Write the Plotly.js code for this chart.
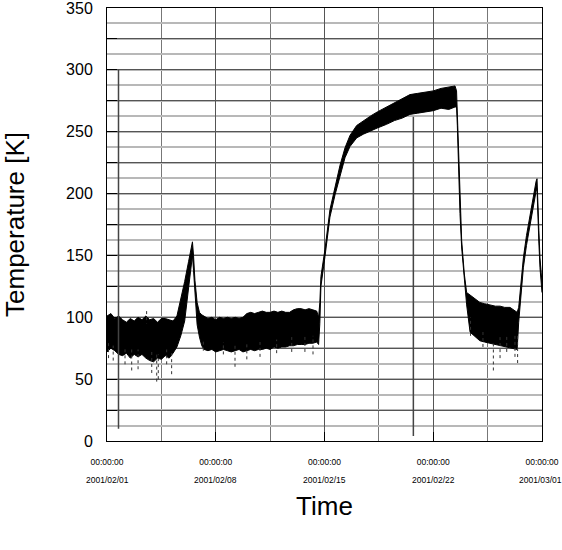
<!DOCTYPE html>
<html>
<head>
<meta charset="utf-8">
<script src="https://cdn.plot.ly/plotly-3.0.1.min.js"></script>
<style>
  html, body { margin: 0; padding: 0; background: white; }
  #chart { width: 562px; height: 550px; }
</style>
</head>
<body>
<div id="chart"></div>
<script>
// days after 2001/02/01 00:00:00, with the upper and lower edge of the noisy temperature band [K]
var bandDays = [
  0, 0.25, 0.5, 0.75, 1.0, 1.25, 1.5, 1.75, 2.0, 2.25, 2.5, 2.75, 3.0, 3.25, 3.5, 3.75, 4.0, 4.25,
  4.5, 4.75, 5.0, 5.25, 5.4, 5.5, 5.57, 5.66, 5.8, 5.95, 6.1,
  6.25, 6.5, 6.75, 7.0, 7.25, 7.5, 7.75, 8.0, 8.25, 8.5, 8.75, 9.0, 9.25, 9.5, 9.75, 10.0,
  10.25, 10.5, 10.75, 11.0, 11.25, 11.5, 11.75, 12.0, 12.25, 12.5, 12.75, 13.0, 13.25, 13.5,
  13.62, 13.7, 13.77, 14.03, 14.35, 14.68, 15.0, 15.32, 15.64, 16.07, 16.5, 17.0, 17.4, 18.0,
  18.5, 19.0, 19.5, 20.0, 20.5, 21.0, 21.5, 22.0, 22.4,
  22.5, 22.55, 22.62, 22.72, 22.83, 23.0, 23.15, 23.37, 23.7, 24.0, 24.3, 24.65, 25.0, 25.3,
  25.6, 25.94, 26.2, 26.4,
  26.5, 26.65, 26.8, 27.0, 27.23, 27.45, 27.62, 27.68, 27.8, 27.87, 28.0
];
var bandHi = [
  101, 103, 99, 101, 98, 96, 99, 97, 100, 98, 101, 98, 99, 96, 99, 99, 98, 97,
  101, 114, 129, 145, 154, 161, 150, 130, 112, 104, 102,
  101, 99, 100, 98, 100, 99, 100, 99, 100, 99, 100, 103, 104, 103, 104, 105,
  104, 104, 105, 104, 105, 104, 104, 106, 107, 107, 106, 107, 106, 105,
  100, 112, 133, 155, 187, 206, 223, 237, 247, 255, 259, 263, 266, 270,
  273, 276, 280, 281, 282, 283, 285, 286, 287,
  283, 265, 228, 190, 162, 135, 120, 118, 115, 112, 111, 110, 109, 109,
  108, 108, 106, 104,
  108, 128, 148, 166, 184, 198, 210, 212, 170, 148, 128
];
var bandLo = [
  72, 75, 73, 70, 69, 71, 67, 70, 68, 70, 67, 65, 64, 67, 66, 69, 67, 71,
  76, 85, 97, 122, 138, 150, 138, 117, 94, 84, 77,
  74, 73, 74, 72, 73, 74, 73, 72, 73, 74, 72, 73, 74, 73, 74, 74,
  75, 74, 76, 75, 76, 76, 77, 77, 78, 78, 78, 79, 79, 80,
  78, 95, 125, 149, 181, 199, 215, 229, 238, 245, 248, 251, 253, 256,
  259, 261, 264, 265, 266, 267, 269, 268, 270,
  270, 255, 222, 184, 156, 128, 110, 88, 84, 81, 80, 79, 78, 77,
  76, 75, 74, 74,
  96, 120, 140, 158, 176, 190, 202, 204, 160, 140, 120
];

// single readings far outside the band (dotted streaks)
var dipDays = [0.1, 0.4, 1.16, 1.59, 2.0, 2.55, 2.88, 3.2, 3.3, 3.84, 4.16, 6.2, 7.49, 8.24, 9.0, 9.85, 10.92, 11.89,
               12.74, 13.26, 23.4, 24.2, 24.87, 25.3, 25.73, 26.26, 26.43];
var dipLow  = [67, 65, 62, 57, 58, 105, 55, 48, 50, 62, 54, 73, 70, 60, 66, 68, 71, 72,
               72, 70, 85, 76, 57, 67, 72, 68, 63];
var dipHigh = [80, 78, 76, 75, 74, 95, 72, 70, 70, 74, 72, 82, 80, 78, 80, 80, 82, 84,
               85, 85, 100, 90, 80, 85, 85, 85, 85];

// two glitches that cross most of the range
var glitchDays = [0.74, 19.72];
var glitchLow  = [10, 4];
var glitchHigh = [300, 262];

var tickDays = [0, 7, 14, 21, 28];
var tickDates = ['2001/02/01', '2001/02/08', '2001/02/15', '2001/02/22', '2001/03/01'];

var t0 = Date.UTC(2001, 1, 1);
function toDate(d) {
  return new Date(t0 + d * 86400000).toISOString().slice(0, 23).replace('T', ' ');
}

var bandX = bandDays.map(toDate);

function segments(days, lo, hi) {
  var x = [], y = [];
  for (var i = 0; i < days.length; i++) {
    x.push(toDate(days[i]), toDate(days[i]), null);
    y.push(lo[i], hi[i], null);
  }
  return {x: x, y: y};
}
var dips = segments(dipDays, dipLow, dipHigh);
var glitches = segments(glitchDays, glitchLow, glitchHigh);

var traceLo = {
  x: bandX, y: bandLo, mode: 'lines',
  line: {color: 'black', width: 1},
  hoverinfo: 'skip'
};
var traceHi = {
  x: bandX, y: bandHi, mode: 'lines',
  fill: 'tonexty', fillcolor: 'black',
  line: {color: 'black', width: 1},
  hoverinfo: 'skip'
};
var traceDips = {
  x: dips.x, y: dips.y, mode: 'lines',
  line: {color: '#333', width: 1, dash: 'dot'},
  hoverinfo: 'skip'
};
var traceGlitch = {
  x: glitches.x, y: glitches.y, mode: 'lines',
  line: {color: '#444', width: 1.5},
  hoverinfo: 'skip'
};

var yVals = [], yText = [];
for (var v = 0; v <= 350; v += 25) {
  yVals.push(v);
  yText.push(v % 50 === 0 ? String(v) : '');
}

var annotations = tickDays.map(function(d, i) {
  return {
    x: toDate(d), y: -0.09, xref: 'x', yref: 'paper',
    text: tickDates[i], showarrow: false,
    xanchor: 'center', yanchor: 'middle',
    xshift: i === tickDays.length - 1 ? -2 : 0,
    font: {family: 'Liberation Sans, Arial, sans-serif', size: 8.5, color: 'black'}
  };
});

var layout = {
  width: 562, height: 550,
  margin: {l: 107, r: 20, t: 8, b: 109},
  paper_bgcolor: 'white', plot_bgcolor: 'white',
  showlegend: false,
  font: {family: 'Liberation Sans, Arial, sans-serif', color: 'black'},
  xaxis: {
    type: 'date',
    range: [toDate(0), toDate(28)],
    tickvals: tickDays.map(toDate),
    ticktext: tickDays.map(function() { return '00:00:00'; }),
    tickfont: {size: 8.5},
    ticks: 'inside', ticklen: 9, tickcolor: 'black',
    ticklabelstandoff: 13,
    ticklabeloverflow: 'allow',
    showgrid: true, gridcolor: '#555', gridwidth: 1,
    minor: {dtick: 3.5 * 86400000, tick0: toDate(0), showgrid: true, gridcolor: '#777', gridwidth: 1},
    showline: true, linecolor: 'black', linewidth: 1, mirror: true,
    zeroline: false,
    title: {text: 'Time', font: {size: 26}, standoff: 30}
  },
  yaxis: {
    range: [0, 350],
    tickvals: yVals, ticktext: yText,
    tickfont: {size: 16},
    ticks: 'inside', ticklen: 10, tickcolor: 'black',
    ticklabelstandoff: 10,
    ticklabeloverflow: 'allow',
    showgrid: true, gridcolor: '#555', gridwidth: 1,
    minor: {dtick: 12.5, showgrid: true, gridcolor: '#b8b8b8', gridwidth: 2},
    showline: true, linecolor: 'black', linewidth: 1, mirror: true,
    zeroline: false,
    title: {text: 'Temperature [K]', font: {size: 26}, standoff: 34}
  },
  annotations: annotations
};

Plotly.newPlot('chart', [traceLo, traceHi, traceDips, traceGlitch], layout, {displayModeBar: false, staticPlot: true});
</script>
</body>
</html>
